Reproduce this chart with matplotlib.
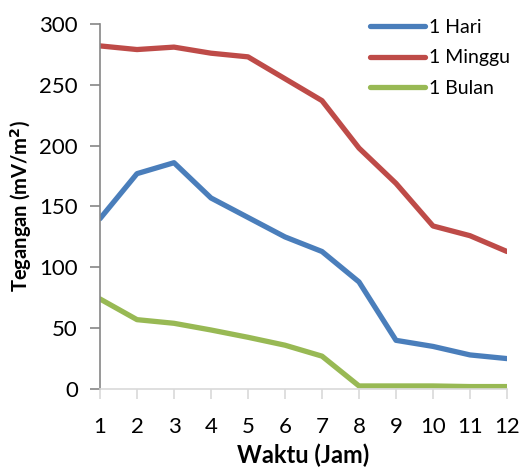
import matplotlib
matplotlib.use("Agg")
import matplotlib.pyplot as plt

plt.rcParams["font.family"] = ["Lato", "DejaVu Sans"]

jam = [1, 2, 3, 4, 5, 6, 7, 8, 9, 10, 11, 12]
hari = [140, 177, 186, 157, 141, 125, 113, 88, 40, 35, 28, 25]
minggu = [282, 279, 281, 276, 273, 255, 237, 198, 169, 134, 126, 113]
bulan = [74, 57, 54, 48.5, 42.5, 36, 27, 2.5, 2.5, 2.5, 2, 2]

W, H = 521, 473
fig = plt.figure(figsize=(W / 100, H / 100), dpi=100)
ax = fig.add_axes([100 / W, (H - 389) / H, (507 - 100) / W, (389 - 24) / H])

lw = 3.8
ax.plot(jam, hari, color="#4a7ebb", linewidth=lw, solid_capstyle="round", label="1 Hari")
ax.plot(jam, minggu, color="#be4b48", linewidth=lw, solid_capstyle="round", label="1 Minggu")
ax.plot(jam, bulan, color="#98b954", linewidth=lw, solid_capstyle="round", label="1 Bulan")

ax.set_xlim(1, 12)
ax.set_ylim(0, 300)
ax.set_xticks(jam)
ax.set_yticks([0, 50, 100, 150, 200, 250, 300])

for s in ["top", "right"]:
    ax.spines[s].set_visible(False)
ax.spines["left"].set_color("#868686")
ax.spines["left"].set_linewidth(1.2)
ax.spines["bottom"].set_color("#d9d9d9")
ax.spines["bottom"].set_linewidth(1.2)
ax.tick_params(axis="y", colors="#868686", labelcolor="black", length=7, width=1.2, labelsize=16, pad=9)
ax.tick_params(axis="x", colors="#d9d9d9", labelcolor="black", length=7, width=1.2, labelsize=16, pad=13)

ax.set_xlabel("Waktu (Jam)", fontsize=17, fontweight="bold", labelpad=5)
ax.set_ylabel("Tegangan (mV/m$^\\mathbf{2}$)", fontsize=14.5, fontweight="bold", labelpad=4)

ax.legend(loc="upper left", bbox_to_anchor=(362 / W, 1 - 11 / H), bbox_transform=fig.transFigure,
          frameon=False, fontsize=14, handlelength=2.85, handletextpad=0.2, labelspacing=0.7,
          borderaxespad=0)

fig.savefig("out.png", dpi=100)
